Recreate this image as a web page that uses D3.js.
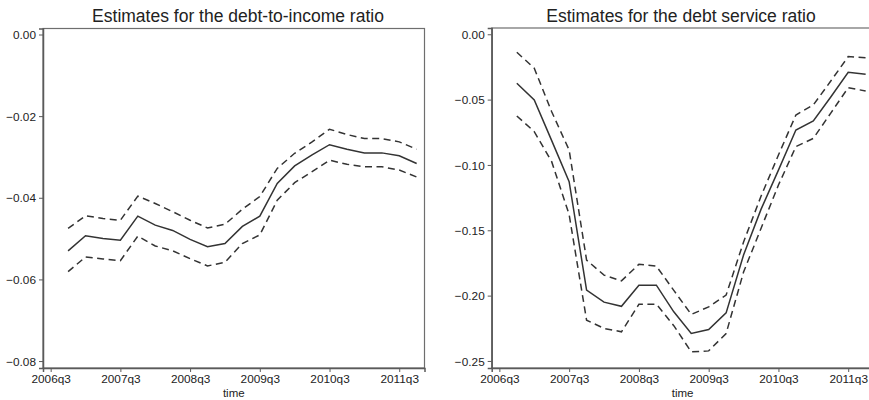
<!DOCTYPE html>
<html>
<head>
<meta charset="utf-8">
<script src="https://cdn.jsdelivr.net/npm/d3@7"></script>
<style>
  html, body { margin: 0; padding: 0; background: #fff; overflow: hidden; }
  svg { display: block; font-family: "Liberation Sans", Arial, sans-serif; }
</style>
</head>
<body>
<svg id="chart" width="869" height="400"></svg>
<script>
// quarters shown on the x axis
const quarters = ['2006q4', '2007q1', '2007q2', '2007q3', '2007q4', '2008q1', '2008q2', '2008q3',
  '2008q4', '2009q1', '2009q2', '2009q3', '2009q4', '2010q1', '2010q2', '2010q3', '2010q4',
  '2011q1', '2011q2', '2011q3', '2011q4'];
const tickQuarters = ['2006q3', '2007q3', '2008q3', '2009q3', '2010q3', '2011q3'];

// debt-to-income ratio
const dtiEstimate = [-0.0530, -0.0493, -0.0500, -0.0504, -0.0445, -0.0467, -0.0480, -0.0502, -0.0520,
  -0.0512, -0.0470, -0.0445, -0.0365, -0.0322, -0.0295, -0.0270, -0.0281, -0.0290, -0.0290, -0.0297, -0.0316];
const dtiUpper = [-0.0475, -0.0444, -0.0451, -0.0455, -0.0396, -0.0414, -0.0434, -0.0455, -0.0474,
  -0.0465, -0.0428, -0.0397, -0.0328, -0.0291, -0.0263, -0.0232, -0.0245, -0.0255, -0.0255, -0.0263, -0.0281];
const dtiLower = [-0.0581, -0.0545, -0.0550, -0.0554, -0.0494, -0.0518, -0.0530, -0.0549, -0.0567,
  -0.0558, -0.0512, -0.0491, -0.0406, -0.0363, -0.0336, -0.0308, -0.0318, -0.0324, -0.0324, -0.0332, -0.0349];
const dtiTicks = [0, -0.02, -0.04, -0.06, -0.08];

// debt service ratio
const dsrEstimate = [-0.0375, -0.0503, -0.0814, -0.1128, -0.1958, -0.2050, -0.2082, -0.1920, -0.1920,
  -0.2124, -0.2290, -0.2259, -0.2132, -0.1690, -0.1340, -0.1040, -0.0733, -0.0664, -0.0480, -0.0291, -0.0306];
const dsrUpper = [-0.0138, -0.0260, -0.0593, -0.0886, -0.1728, -0.1843, -0.1887, -0.1760, -0.1774,
  -0.1960, -0.2144, -0.2086, -0.1996, -0.1590, -0.1240, -0.0924, -0.0618, -0.0541, -0.0358, -0.0171, -0.0179];
const dsrLower = [-0.0625, -0.0745, -0.0975, -0.1380, -0.2188, -0.2251, -0.2277, -0.2067, -0.2065,
  -0.2230, -0.2430, -0.2423, -0.2290, -0.1820, -0.1486, -0.1154, -0.0860, -0.0797, -0.0603, -0.0409, -0.0434];
const dsrTicks = [0, -0.05, -0.10, -0.15, -0.20, -0.25];

const LINE_COLOR = '#333';
const FRAME_COLOR = '#5a5a5a';

// "2007q3" -> 2007.5
const qNum = q => +q.slice(0, 4) + (+q.slice(5) - 1) / 4;

const svg = d3.select('#chart');

function panel(opts) {
  const { left, right, top, bottom, yDomain, yTicks, title, series } = opts;
  const g = svg.append('g');

  const x = d3.scaleLinear().domain([2006.39, 2011.8625]).range([left, right]);
  const y = d3.scaleLinear().domain(yDomain).range([top, bottom]);

  // frame
  g.append('rect')
    .attr('x', left).attr('y', top)
    .attr('width', right - left).attr('height', bottom - top)
    .attr('fill', 'none')
    .attr('stroke', '#6e6e6e')
    .attr('stroke-width', 1.2);

  const yAxis = d3.axisLeft(y).tickValues(yTicks).tickSize(4).tickPadding(3)
    .tickFormat(d => d3.format('.2f')(d));
  const yg = g.append('g').attr('transform', `translate(${left},0)`).call(yAxis);

  const xAxis = d3.axisBottom(x).tickValues(tickQuarters.map(qNum)).tickSize(4).tickPadding(3)
    .tickFormat((d, i) => tickQuarters[i]);
  const xg = g.append('g').attr('transform', `translate(0,${bottom})`).call(xAxis);

  [yg, xg].forEach(a => {
    a.select('.domain').attr('stroke', FRAME_COLOR).attr('stroke-width', 1.5);
    a.selectAll('.tick line').attr('stroke', FRAME_COLOR).attr('stroke-width', 1);
    a.selectAll('.tick text').attr('fill', '#222').style('font-size', '11.8px');
  });
  yg.selectAll('.tick text').attr('dy', '0.35em');

  g.append('text')
    .attr('x', (x.range()[0] + x.range()[1]) / 2)
    .attr('y', 397)
    .attr('text-anchor', 'middle')
    .attr('fill', '#222')
    .style('font-size', '11.5px')
    .text('time');

  g.append('text')
    .attr('x', opts.titleX)
    .attr('y', 22)
    .attr('text-anchor', 'middle')
    .attr('fill', '#222')
    .style('font-size', '17.5px')
    .text(title);

  const line = d3.line()
    .x((d, i) => x(qNum(quarters[i])))
    .y(d => y(d));

  series.forEach(s => {
    g.append('path')
      .datum(s.values)
      .attr('d', line)
      .attr('fill', 'none')
      .attr('stroke', LINE_COLOR)
      .attr('stroke-width', 1.5)
      .attr('stroke-dasharray', s.dashed ? '7,4.5' : null);
  });
}

panel({
  left: 43, right: 424.5, top: 28.5, bottom: 368,
  yDomain: [0.00147, -0.0817], yTicks: dtiTicks,
  title: 'Estimates for the debt-to-income ratio', titleX: 238,
  series: [
    { values: dtiUpper, dashed: true },
    { values: dtiEstimate, dashed: false },
    { values: dtiLower, dashed: true }
  ]
});

panel({
  left: 491.7, right: 873.5, top: 28, bottom: 368,
  yDomain: [0.0048, -0.2554], yTicks: dsrTicks,
  title: 'Estimates for the debt service ratio', titleX: 681,
  series: [
    { values: dsrUpper, dashed: true },
    { values: dsrEstimate, dashed: false },
    { values: dsrLower, dashed: true }
  ]
});
</script>
</body>
</html>
